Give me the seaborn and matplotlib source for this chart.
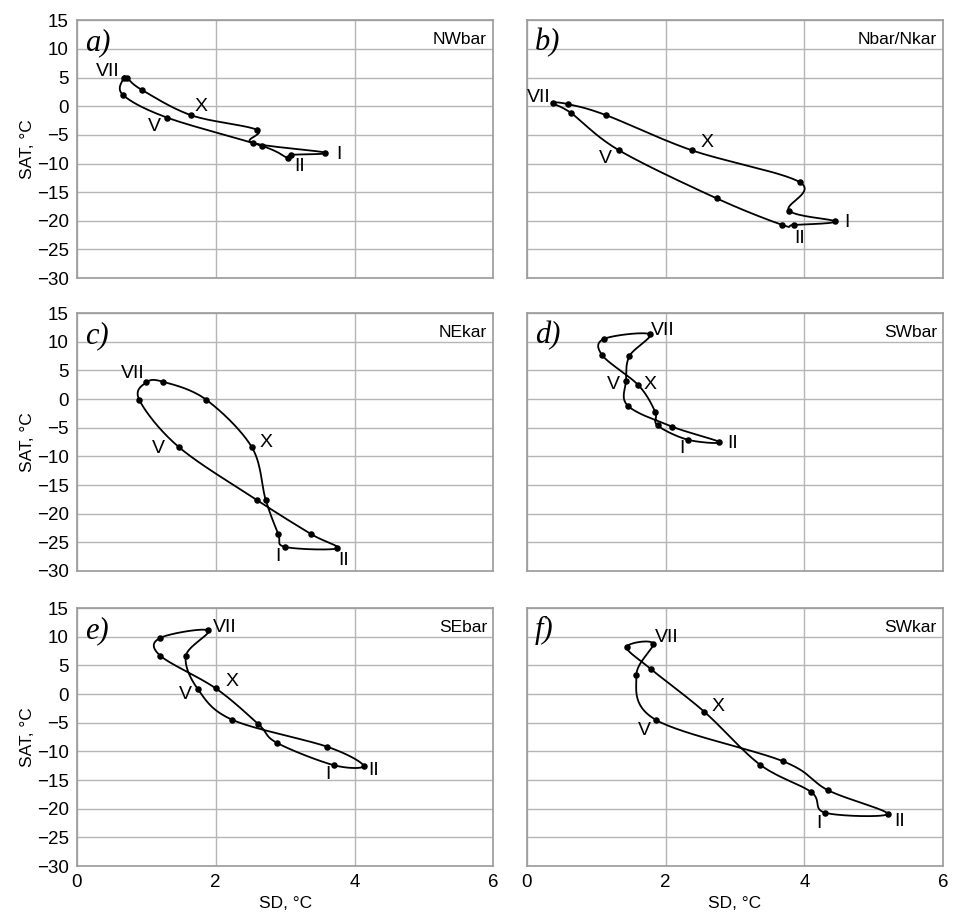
import numpy as np
import matplotlib
matplotlib.use("Agg")
import matplotlib.pyplot as plt
import seaborn as sns

# monthly SD / SAT values (I..XII) for each region
months = ['I', 'II', 'III', 'IV', 'V', 'VI', 'VII', 'VIII', 'IX', 'X', 'XI', 'XII']

sd_nwbar = [3.58, 3.09, 3.04, 2.66, 1.30, 0.66, 0.68, 0.72, 0.94, 1.65, 2.59, 2.53]
sat_nwbar = [-8.1, -8.5, -9.05, -6.9, -2.0, 2.0, 5.0, 4.9, 2.8, -1.6, -4.1, -6.4]

sd_nbar = [4.44, 3.85, 3.68, 2.74, 1.33, 0.64, 0.38, 0.59, 1.14, 2.38, 3.94, 3.78]
sat_nbar = [-20.1, -20.7, -20.7, -16.1, -7.7, -1.2, 0.5, 0.37, -1.55, -7.7, -13.3, -18.2]

sd_nekar = [3.00, 3.75, 3.38, 2.59, 1.47, 0.90, 1.00, 1.245, 1.86, 2.52, 2.72, 2.90]
sat_nekar = [-25.8, -26.05, -23.6, -17.6, -8.4, -0.2, 2.9, 3.0, -0.1, -8.4, -17.6, -23.5]

sd_swbar = [2.32, 2.775, 2.09, 1.455, 1.43, 1.48, 1.77, 1.115, 1.09, 1.61, 1.85, 1.885]
sat_swbar = [-7.1, -7.5, -4.8, -1.15, 3.2, 7.5, 11.3, 10.5, 7.6, 2.4, -2.2, -4.6]

sd_sebar = [3.70, 4.13, 3.61, 2.24, 1.74, 1.57, 1.89, 1.20, 1.20, 2.00, 2.61, 2.88]
sat_sebar = [-12.4, -12.5, -9.2, -4.5, 0.9, 6.7, 11.1, 9.8, 6.7, 1.0, -5.2, -8.5]

sd_swkar = [4.30, 5.20, 4.345, 3.70, 1.86, 1.58, 1.82, 1.44, 1.79, 2.56, 3.36, 4.10]
sat_swkar = [-20.7, -20.9, -16.8, -11.75, -4.5, 3.25, 8.8, 8.2, 4.35, -3.1, -12.3, -17.1]

letters = ['a)', 'b)', 'c)', 'd)', 'e)', 'f)']
names = ['NWbar', 'Nbar/Nkar', 'NEkar', 'SWbar', 'SEbar', 'SWkar']
series = [(sd_nwbar, sat_nwbar), (sd_nbar, sat_nbar), (sd_nekar, sat_nekar),
          (sd_swbar, sat_swbar), (sd_sebar, sat_sebar), (sd_swkar, sat_swkar)]

# where the month labels sit (data coords), per panel
label_pos = [
    {'VII': (0.44, 6.0), 'X': (1.79, 0.0), 'V': (1.12, -3.5), 'I': (3.77, -8.5), 'II': (3.21, -10.5)},
    {'VII': (0.17, 1.5), 'X': (2.60, -6.4), 'V': (1.13, -9.1), 'I': (4.61, -20.3), 'II': (3.93, -23.0)},
    {'VII': (0.81, 4.5), 'X': (2.72, -7.6), 'V': (1.17, -8.6), 'I': (2.90, -27.4), 'II': (3.85, -28.1)},
    {'VII': (1.96, 12.0), 'V': (1.25, 2.6), 'X': (1.78, 2.6), 'I': (2.23, -8.7), 'II': (2.96, -7.8)},
    {'VII': (2.13, 11.7), 'X': (2.24, 2.2), 'V': (1.56, -0.1), 'I': (3.61, -14.0), 'II': (4.27, -13.4)},
    {'VII': (2.02, 9.8), 'X': (2.76, -2.2), 'V': (1.70, -6.4), 'I': (4.21, -22.6), 'II': (5.38, -22.2)},
]


def closed_spline(x, y, n=30):
    # Catmull-Rom style smoothing like the spreadsheet "smoothed line"
    p = np.column_stack([x, y])
    m = len(p)
    out = []
    for i in range(m):
        p0, p1, p2, p3 = p[i - 1], p[i], p[(i + 1) % m], p[(i + 2) % m]
        c1 = p1 + (p2 - p0) / 6
        c2 = p2 - (p3 - p1) / 6
        t = np.linspace(0, 1, n, endpoint=False)[:, None]
        seg = ((1 - t) ** 3) * p1 + 3 * ((1 - t) ** 2) * t * c1 + 3 * (1 - t) * t ** 2 * c2 + t ** 3 * p2
        out.append(seg)
    out.append(p[:1])
    out = np.vstack(out)
    return out[:, 0], out[:, 1]


sns.set_style("white")
plt.rcParams['font.family'] = ['Liberation Sans Narrow', 'Liberation Sans', 'DejaVu Sans']
plt.rcParams['text.color'] = 'black'
plt.rcParams['axes.labelcolor'] = 'black'
plt.rcParams['xtick.color'] = 'black'
plt.rcParams['ytick.color'] = 'black'

fig = plt.figure(figsize=(9.56, 9.18), dpi=100)
lefts = [0.0805, 0.551]
bottoms = [0.697, 0.378, 0.0566]
w, h = 0.4355, 0.281

for k in range(6):
    r, c = k // 2, k % 2
    ax = fig.add_axes([lefts[c], bottoms[r], w, h])
    sd, sat = series[k]
    xs, ys = closed_spline(sd, sat)
    sns.lineplot(x=xs, y=ys, sort=False, estimator=None, color='black', linewidth=1.3, ax=ax)
    sns.scatterplot(x=sd, y=sat, color='black', s=22, edgecolor='black', linewidth=0, ax=ax, zorder=3)

    for m, (tx, ty) in label_pos[k].items():
        ax.text(tx, ty, m, ha='center', va='center', fontsize=14)

    ax.set_xlim(0, 6)
    ax.set_ylim(-30, 15)
    ax.set_xticks([0, 2, 4, 6])
    ax.set_yticks(range(-30, 16, 5))
    ax.grid(True, color='#b5b5b5', linewidth=1)
    ax.set_axisbelow(True)
    for s in ax.spines.values():
        s.set_color('#9a9a9a')
        s.set_linewidth(1.2)
    ax.tick_params(axis='y', length=4, color='#9a9a9a', labelcolor='black', labelsize=13.5, pad=2)
    ax.tick_params(axis='x', length=0, labelcolor='black', labelsize=13.5, pad=6)

    if c == 0:
        ax.set_ylabel('SAT, °C', fontsize=12.5, labelpad=1)
    else:
        ax.set_yticklabels([])
    if r == 2:
        ax.set_xlabel('SD, °C', fontsize=12.5, labelpad=3)
    else:
        ax.set_xticklabels([])

    ax.text(0.02, 0.97, letters[k], transform=ax.transAxes, ha='left', va='top',
            fontsize=22, style='italic', family=['Liberation Serif', 'DejaVu Serif'])
    ax.text(0.985, 0.955, names[k], transform=ax.transAxes, ha='right', va='top', fontsize=12.5)

fig.savefig('out.png', dpi=100)
